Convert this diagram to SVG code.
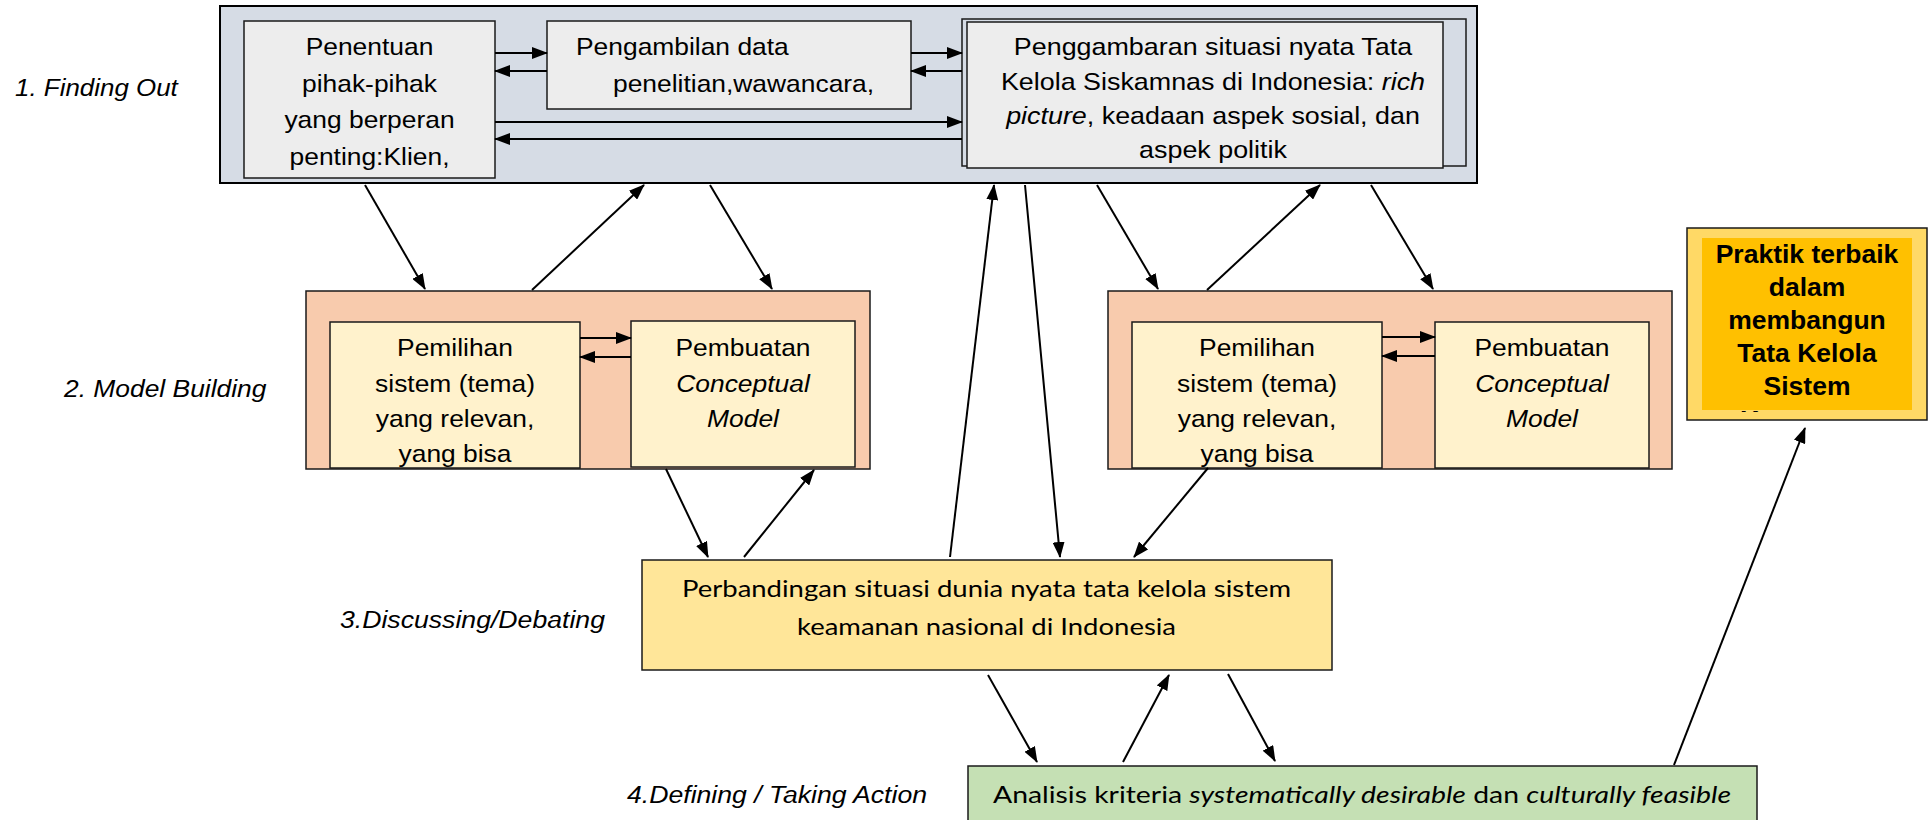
<svg xmlns="http://www.w3.org/2000/svg" width="1930" height="820" viewBox="0 0 1930 820">
<style>
.a{font-family:"Liberation Sans",Arial,sans-serif;font-size:24px;fill:#000}
.c{text-anchor:middle}
.i{font-style:italic}
.b{font-weight:bold;font-size:26.5px}
.cal{font-family:Lato,"Liberation Sans",sans-serif;font-size:24px;fill:#000}
.box{stroke:#1a1a1a;stroke-width:1.5}
.conn line{stroke:#000;stroke-width:2;marker-end:url(#ah)}
</style>
<defs>
<marker id="ah" markerUnits="userSpaceOnUse" markerWidth="16" markerHeight="12" refX="15" refY="6" orient="auto">
<path d="M0,0 L16,6 L0,12 z" fill="#000"/>
</marker>
<clipPath id="clipL"><rect x="330" y="322" width="250" height="146"/></clipPath>
<clipPath id="clipR"><rect x="1132" y="322" width="250" height="146"/></clipPath>
<clipPath id="clipG"><rect x="1687" y="228" width="240" height="184"/></clipPath>
</defs>
<rect width="1930" height="820" fill="#fff"/>

<g id="labels">
<text class="a i" transform="translate(15 0) scale(1.08 1)" x="0" y="96">1. Finding Out</text>
<text class="a i" transform="translate(64 0) scale(1.1 1)" x="0" y="397">2. Model Building</text>
<text class="a i" transform="translate(340 0) scale(1.11 1)" x="0" y="628">3.Discussing/Debating</text>
<text class="a i" transform="translate(627 0) scale(1.11 1)" x="0" y="803">4.Defining / Taking Action</text>
</g>

<g id="finding-out">
<rect x="220" y="6" width="1257" height="177" fill="#d6dce5" stroke="#000" stroke-width="2"/>
</g>

<g id="penentuan">
<rect class="box" x="244" y="21" width="251" height="157" fill="#ededed"/>
<g transform="translate(369.5 0) scale(1.1 1)">
<text class="a c" x="0" y="55">Penentuan</text>
<text class="a c" x="0" y="92">pihak-pihak</text>
<text class="a c" x="0" y="128">yang berperan</text>
<text class="a c" x="0" y="165">penting:Klien,</text>
</g>
</g>

<g id="pengambilan">
<rect class="box" x="547" y="21" width="364" height="88" fill="#ededed"/>
<text class="a" transform="translate(576 0) scale(1.1 1)" x="0" y="55">Pengambilan data</text>
<text class="a" transform="translate(613 0) scale(1.1 1)" x="0" y="92">penelitian,wawancara,</text>
</g>

<g id="penggambaran">
<rect class="box" x="962" y="19" width="504" height="147" fill="#d6dce5"/>
<rect class="box" x="967" y="22" width="476" height="146" fill="#ededed"/>
<g transform="translate(1213 0) scale(1.12 1)">
<text class="a c" x="0" y="55">Penggambaran situasi nyata Tata</text>
<text class="a c" x="0" y="90">Kelola Siskamnas di Indonesia: <tspan class="i">rich</tspan></text>
<text class="a c" x="0" y="124"><tspan class="i">picture</tspan>, keadaan aspek sosial, dan</text>
<text class="a c" x="0" y="158">aspek politik</text>
</g>
</g>

<g id="model-left">
<rect class="box" x="306" y="291" width="564" height="178" fill="#f8cbad"/>
</g>
<g id="pemilihan-left">
<rect class="box" x="330" y="322" width="250" height="146" fill="#fff2cc"/>
<g clip-path="url(#clipL)">
<g transform="translate(455 0) scale(1.1 1)">
<text class="a c" x="0" y="356">Pemilihan</text>
<text class="a c" x="0" y="392">sistem (tema)</text>
<text class="a c" x="0" y="427">yang relevan,</text>
<text class="a c" x="0" y="462">yang bisa</text>
</g>
</g>
</g>
<g id="pembuatan-left">
<rect class="box" x="631" y="321" width="224" height="146" fill="#fff2cc"/>
<g transform="translate(743 0) scale(1.1 1)">
<text class="a c" x="0" y="356">Pembuatan</text>
<text class="a c i" x="0" y="392">Conceptual</text>
<text class="a c i" x="0" y="427">Model</text>
</g>
</g>

<g id="model-right">
<rect class="box" x="1108" y="291" width="564" height="178" fill="#f8cbad"/>
</g>
<g id="pemilihan-right">
<rect class="box" x="1132" y="322" width="250" height="146" fill="#fff2cc"/>
<g clip-path="url(#clipR)">
<g transform="translate(1257 0) scale(1.1 1)">
<text class="a c" x="0" y="356">Pemilihan</text>
<text class="a c" x="0" y="392">sistem (tema)</text>
<text class="a c" x="0" y="427">yang relevan,</text>
<text class="a c" x="0" y="462">yang bisa</text>
</g>
</g>
</g>
<g id="pembuatan-right">
<rect class="box" x="1435" y="322" width="214" height="146" fill="#fff2cc"/>
<g transform="translate(1542 0) scale(1.1 1)">
<text class="a c" x="0" y="356">Pembuatan</text>
<text class="a c i" x="0" y="392">Conceptual</text>
<text class="a c i" x="0" y="427">Model</text>
</g>
</g>

<g id="praktik">
<rect class="box" x="1687" y="228" width="240" height="192" fill="#ffd966"/>
<rect x="1702" y="238" width="210" height="172" fill="#ffc000"/>
<g clip-path="url(#clipG)">
<text class="a b c" x="1807" y="263">Praktik terbaik</text>
<text class="a b c" x="1807" y="296">dalam</text>
<text class="a b c" x="1807" y="329">membangun</text>
<text class="a b c" x="1807" y="362">Tata Kelola</text>
<text class="a b c" x="1807" y="395">Sistem</text>
<text class="a b c" x="1807" y="429">Keamanan</text>
</g>
</g>

<g id="perbandingan">
<rect class="box" x="642" y="560" width="690" height="110" fill="#ffe699"/>
<text class="cal" x="682" y="597" textLength="609" lengthAdjust="spacingAndGlyphs">Perbandingan situasi dunia nyata tata kelola sistem</text>
<text class="cal" x="797" y="635" textLength="379" lengthAdjust="spacingAndGlyphs">keamanan nasional di Indonesia</text>
</g>

<g id="analisis">
<rect class="box" x="968" y="766" width="789" height="70" fill="#c5e0b4"/>
<text class="cal" x="993" y="803" textLength="738" lengthAdjust="spacingAndGlyphs">Analisis kriteria <tspan font-style="italic">systematically desirable</tspan> dan <tspan font-style="italic">culturally feasible</tspan></text>
</g>

<g id="connectors" class="conn">
<line x1="495" y1="53" x2="547" y2="53"/>
<line x1="547" y1="71" x2="495" y2="71"/>
<line x1="911" y1="53" x2="962" y2="53"/>
<line x1="962" y1="71" x2="911" y2="71"/>
<line x1="495" y1="122" x2="962" y2="122"/>
<line x1="962" y1="139" x2="495" y2="139"/>
<line x1="580" y1="338" x2="631" y2="338"/>
<line x1="631" y1="357" x2="580" y2="357"/>
<line x1="1382" y1="337" x2="1435" y2="337"/>
<line x1="1435" y1="356" x2="1382" y2="356"/>
<line x1="365" y1="185" x2="425" y2="289"/>
<line x1="532" y1="290" x2="644" y2="185"/>
<line x1="710" y1="185" x2="772" y2="289"/>
<line x1="950" y1="557" x2="994" y2="185"/>
<line x1="1025" y1="185" x2="1060" y2="557"/>
<line x1="1208" y1="468" x2="1134" y2="557"/>
<line x1="1097" y1="185" x2="1158" y2="289"/>
<line x1="1207" y1="290" x2="1320" y2="185"/>
<line x1="1371" y1="185" x2="1433" y2="289"/>
<line x1="666" y1="469" x2="708" y2="557"/>
<line x1="744" y1="557" x2="814" y2="470"/>
<line x1="988" y1="675" x2="1037" y2="762"/>
<line x1="1123" y1="762" x2="1169" y2="675"/>
<line x1="1228" y1="674" x2="1275" y2="761"/>
<line x1="1674" y1="765" x2="1805" y2="428"/>
</g>
</svg>
